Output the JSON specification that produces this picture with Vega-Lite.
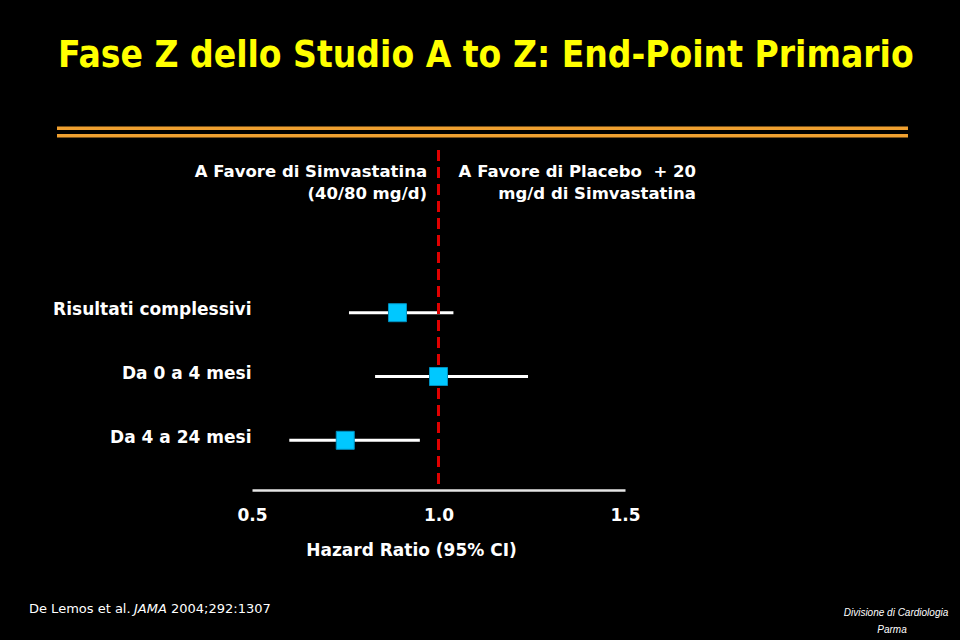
{
  "$schema": "https://vega.github.io/schema/vega-lite/v6.json",
  "width": 373,
  "height": 340,
  "autosize": {"type": "none"},
  "padding": {"left": 252, "top": 150, "right": 335, "bottom": 150},
  "background": "#000000",
  "title": {
    "text": "Fase Z dello Studio A to Z: End-Point Primario",
    "anchor": "start",
    "frame": "group",
    "dx": -194,
    "offset": 52,
    "color": "#FFFF00",
    "font": "DejaVu Sans Condensed",
    "fontWeight": "bold",
    "fontSize": 36.8
  },
  "config": {
    "view": {"stroke": null},
    "axis": {"grid": false}
  },
  "resolve": {"scale": {"x": "independent", "y": "independent"}},
  "layer": [
    {
      "data": {
        "values": [
          {"gruppo": "Risultati complessivi", "hr": 0.89, "lo": 0.76, "hi": 1.04},
          {"gruppo": "Da 0 a 4 mesi", "hr": 1.0, "lo": 0.83, "hi": 1.24},
          {"gruppo": "Da 4 a 24 mesi", "hr": 0.75, "lo": 0.60, "hi": 0.95}
        ]
      },
      "layer": [
        {
          "mark": {"type": "rule", "color": "#FFFFFF", "strokeWidth": 3},
          "encoding": {
            "x": {
              "field": "lo",
              "type": "quantitative",
              "title": "Hazard Ratio (95% CI)",
              "scale": {"domain": [0.5, 1.5], "nice": false, "zero": false},
              "axis": {
                "values": [0.5, 1, 1.5],
                "format": ".1f",
                "grid": false,
                "ticks": false,
                "domainColor": "#E6E6E6",
                "domainWidth": 2.5,
                "labelColor": "#FFFFFF",
                "labelFont": "DejaVu Sans",
                "labelFontWeight": "bold",
                "labelFontSize": 17,
                "labelPadding": 17,
                "labelFlush": false,
                "titleColor": "#FFFFFF",
                "titleFont": "DejaVu Sans",
                "titleFontWeight": "bold",
                "titleFontSize": 17,
                "titleX": 159,
                "titleY": 65,
                "titleBaseline": "alphabetic",
                "titleAlign": "center"
              }
            },
            "x2": {"field": "hi"},
            "y": {
              "field": "gruppo",
              "type": "nominal",
              "sort": null,
              "scale": {
                "type": "point",
                "domain": ["Risultati complessivi", "Da 0 a 4 mesi", "Da 4 a 24 mesi"],
                "range": [162.7, 290.3],
                "padding": 0
              },
              "axis": {
                "title": null,
                "ticks": false,
                "domain": false,
                "grid": false,
                "labelColor": "#FFFFFF",
                "labelFont": "DejaVu Sans",
                "labelFontWeight": "bold",
                "labelFontSize": 17,
                "labelPadding": 1,
                "labelOffset": -3,
                "labelLimit": 0
              }
            }
          }
        },
        {
          "data": {"values": [{"riferimento": 1}]},
          "mark": {"type": "rule", "color": "#E00000", "strokeWidth": 3, "strokeDash": [11, 6]},
          "encoding": {
            "x": {"field": "riferimento", "type": "quantitative"}
          }
        },
        {
          "mark": {"type": "square", "size": 324, "filled": true, "fill": "#00C8FF", "stroke": "#0090C0", "strokeWidth": 1, "opacity": 1},
          "encoding": {
            "x": {"field": "hr", "type": "quantitative", "title": "Hazard Ratio (95% CI)"},
            "y": {"field": "gruppo", "type": "nominal", "sort": null}
          }
        }
      ]
    },
    {
      "data": {"values": [{}]},
      "layer": [
        {
          "mark": {"type": "rule", "color": "#F0A030", "strokeWidth": 3.5},
          "encoding": {
            "x": {"datum": -0.0228, "type": "quantitative", "axis": null, "scale": {"domain": [0.5, 1.5], "nice": false, "zero": false}},
            "x2": {"datum": 2.2587},
            "y": {"datum": 1.0638, "type": "quantitative", "axis": null, "scale": {"domain": [0, 1], "nice": false, "zero": false}}
          }
        },
        {
          "mark": {"type": "rule", "color": "#F0A030", "strokeWidth": 3.5},
          "encoding": {
            "x": {"datum": -0.0228, "type": "quantitative", "axis": null},
            "x2": {"datum": 2.2587},
            "y": {"datum": 1.042, "type": "quantitative", "axis": null}
          }
        },
        {
          "mark": {"type": "text", "text": ["A Favore di Simvastatina", "(40/80 mg/d)"], "align": "right", "baseline": "alphabetic", "lineHeight": 22, "font": "DejaVu Sans", "fontWeight": "bold", "fontSize": 16.5, "color": "#FFFFFF"},
          "encoding": {
            "x": {"datum": 0.9692, "type": "quantitative", "axis": null},
            "y": {"datum": 0.9206, "type": "quantitative", "axis": null}
          }
        },
        {
          "mark": {"type": "text", "text": ["A Favore di Placebo\u00a0 + 20", "mg/d di Simvastatina"], "align": "right", "baseline": "alphabetic", "lineHeight": 22, "font": "DejaVu Sans", "fontWeight": "bold", "fontSize": 16.5, "color": "#FFFFFF"},
          "encoding": {
            "x": {"datum": 1.6903, "type": "quantitative", "axis": null},
            "y": {"datum": 0.9206, "type": "quantitative", "axis": null}
          }
        },
        {
          "mark": {"type": "text", "text": "De Lemos et al.", "align": "left", "baseline": "alphabetic", "font": "DejaVu Sans", "fontSize": 13, "color": "#FFFFFF"},
          "encoding": {
            "x": {"datum": -0.0979, "type": "quantitative", "axis": null},
            "y": {"datum": -0.3609, "type": "quantitative", "axis": null}
          }
        },
        {
          "mark": {"type": "text", "text": "JAMA", "align": "left", "baseline": "alphabetic", "font": "DejaVu Sans", "fontStyle": "italic", "fontSize": 13, "color": "#FFFFFF"},
          "encoding": {
            "x": {"datum": 0.1836, "type": "quantitative", "axis": null},
            "y": {"datum": -0.3609, "type": "quantitative", "axis": null}
          }
        },
        {
          "mark": {"type": "text", "text": "2004;292:1307", "align": "left", "baseline": "alphabetic", "font": "DejaVu Sans", "fontSize": 13, "color": "#FFFFFF"},
          "encoding": {
            "x": {"datum": 0.2828, "type": "quantitative", "axis": null},
            "y": {"datum": -0.3609, "type": "quantitative", "axis": null}
          }
        },
        {
          "mark": {"type": "text", "text": "Divisione di Cardiologia", "align": "center", "baseline": "middle", "font": "Liberation Sans", "fontStyle": "italic", "fontSize": 10, "color": "#FFFFFF"},
          "encoding": {
            "x": {"datum": 2.2265, "type": "quantitative", "axis": null},
            "y": {"datum": -0.3618, "type": "quantitative", "axis": null}
          }
        },
        {
          "mark": {"type": "text", "text": "Parma", "align": "center", "baseline": "middle", "font": "Liberation Sans", "fontStyle": "italic", "fontSize": 10, "color": "#FFFFFF"},
          "encoding": {
            "x": {"datum": 2.2158, "type": "quantitative", "axis": null},
            "y": {"datum": -0.4118, "type": "quantitative", "axis": null}
          }
        }
      ]
    }
  ]
}
